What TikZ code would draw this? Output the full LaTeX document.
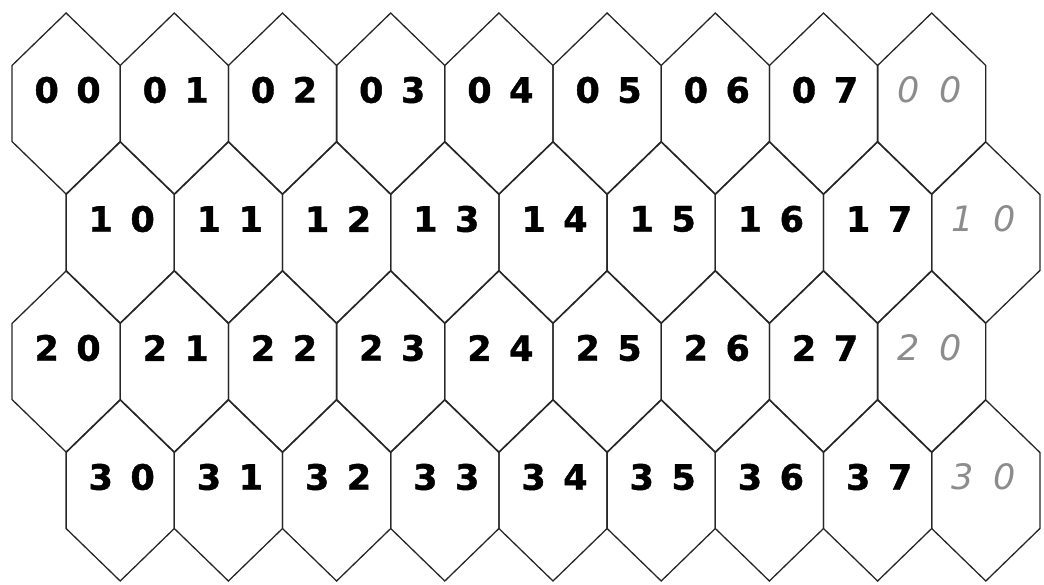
\documentclass[tikz,border=0pt]{standalone}
\usepackage{fontspec}
\newfontfamily\hexfont{DejaVu Sans}
\newfontfamily\heavyfont{DejaVu Sans Bold}[FakeBold=1.2]

\tikzset{
    cell/.style={draw=black!85, line width=1.3pt, line join=miter},
    idlabel/.style={font=\heavyfont\fontsize{35}{35}\selectfont, inner sep=0pt},
    wraplabel/.style={font=\hexfont\itshape\fontsize{35}{35}\selectfont, text=black!45, inner sep=0pt},
}

\begin{document}
\begin{tikzpicture}[x=1pt, y=-1pt]
    % Frame
    \useasboundingbox (0,0) rectangle (1044,584);

    % Cells: four rows, eight columns, and a ninth column that wraps round
    \foreach \r in {0,...,3} {
        \foreach \c in {0,...,8} {
            \pgfmathsetmacro\cx{66.1 + 108.2*\c + 54.1*mod(\r,2)}
            \pgfmathsetmacro\ty{13 + 129*\r}
            \draw[cell] (\cx,\ty) -- ++(54.1,52.5) -- ++(0,76) -- ++(-54.1,52.5)
                -- ++(-54.1,-52.5) -- ++(0,-76) -- cycle;
            \ifnum\c<8
                \node[idlabel] (cell\r\c) at (\cx+1.5,\ty+77) {\r\hspace{0.5em}\c};
            \else
                \node[wraplabel] (cell\r\c) at (\cx-2,\ty+77) {\r\hspace{0.55em}0};
            \fi
        }
    }
\end{tikzpicture}
\end{document}
